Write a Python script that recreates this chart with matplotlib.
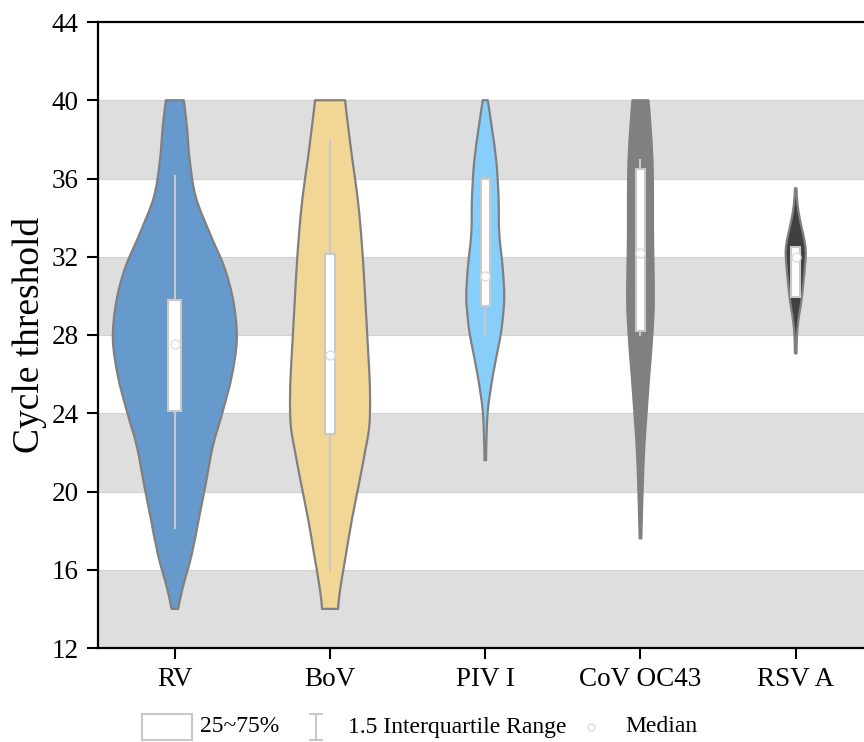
import matplotlib
matplotlib.use("Agg")
import matplotlib.pyplot as plt
from matplotlib.patches import Rectangle, PathPatch
from matplotlib.path import Path
import numpy as np

plt.rcParams['font.family'] = ['Liberation Serif', 'DejaVu Serif']

# ---------------- data ----------------
categories = ["RV", "BoV", "PIV I", "CoV OC43", "RSV A"]

# violin outline profiles: y values and relative half-widths (density)
rv_y = [14, 15.0, 16.8, 18.6, 20.4, 22.3, 24.1, 25.9, 27.75, 29.6, 31.4, 33.2, 35.05, 36.9, 38.7, 40]
rv_w = [3.3, 7.5, 17, 24, 31, 38, 48, 57, 62, 59, 50, 35, 21, 15, 12, 9]

bov_y = [14, 14.96, 16.8, 18.6, 20.4, 22.3, 23.2, 24.1, 25.0, 25.9, 27.75, 29.6, 31.4, 33.2, 35.05, 36.9, 38.7, 40]
bov_w = [8, 10, 16, 22, 29, 36, 39, 40, 40, 39.5, 37.5, 35.5, 33.5, 31, 27.5, 22.5, 18, 15]

piv_y = [21.6, 22.3, 24.1, 25.9, 27.75, 28.6, 29.9, 31.4, 33.2, 35.05, 36.9, 38.7, 40]
piv_w = [0.8, 1.0, 2.5, 7.5, 14.5, 17, 19, 17.5, 14, 13.3, 11, 6.3, 2.5]

cov_y = [17.6, 18.6, 20.4, 22.3, 24.1, 25.9, 27.75, 29.6, 31.4, 33.2, 35.05, 36.9, 38.7, 40]
cov_w = [0.8, 1.3, 2.3, 3.8, 6.2, 8.7, 11.5, 13.3, 13, 12.5, 12.5, 12, 10, 8]

rsv_y = [27.06, 27.9, 28.77, 29.6, 30.47, 31.67, 32.35, 33.03, 33.88, 34.73, 35.5]
rsv_w = [0.8, 1.2, 2.7, 5.3, 7.3, 9.5, 10, 8, 4.3, 1.7, 0.8]

profiles_y = [rv_y, bov_y, piv_y, cov_y, rsv_y]
profiles_w = [rv_w, bov_w, piv_w, cov_w, rsv_w]

# box statistics
q1 = [24.1, 22.96, 29.5, 28.2, 29.96]
q3 = [29.8, 32.16, 35.97, 36.48, 32.48]
medians = [27.55, 27.0, 31.0, 32.2, 31.97]
whisk_lo = [18.1, 15.9, 27.95, 27.95, 29.96]
whisk_hi = [36.2, 37.97, 36.15, 37.0, 32.48]

yticks = [12, 16, 20, 24, 28, 32, 36, 40, 44]

# ---------------- style ----------------
fills = ["#6699CC", "#F2D695", "#87CEFA", "#808080", "#404040"]
edge = "#808080"
box_edge = "#C8C8C8"
WIDTH_SCALE = 1 / 155.4
box_half = [0.042, 0.030, 0.028, 0.032, 0.029]


def smooth_side(pts):
    """Catmull-Rom through pts -> cubic Bezier vertices/codes (excluding first MOVETO)."""
    verts, codes = [], []
    n = len(pts)
    for k in range(n - 1):
        p0 = pts[k - 1] if k > 0 else pts[k]
        p1 = pts[k]
        p2 = pts[k + 1]
        p3 = pts[k + 2] if k + 2 < n else pts[k + 1]
        c1 = p1 + (p2 - p0) / 6.0
        c2 = p2 - (p3 - p1) / 6.0
        verts += [c1, c2, p2]
        codes += [Path.CURVE4] * 3
    return verts, codes


def violin_path(cx, y, w):
    right = np.column_stack([cx + w, y])
    left = np.column_stack([cx - w, y])[::-1]
    verts = [right[0]]
    codes = [Path.MOVETO]
    v, c = smooth_side(right)
    verts += v; codes += c
    verts.append(left[0]); codes.append(Path.LINETO)
    v, c = smooth_side(left)
    verts += v; codes += c
    verts.append(right[0]); codes.append(Path.CLOSEPOLY)
    return Path(np.array(verts), codes)


fig = plt.figure(figsize=(8.64, 7.42), dpi=100)
ax = fig.add_axes([98 / 864, 94 / 742, 1 - 98 / 864, 626 / 742])

# background bands
for b in yticks[:-1][::2]:
    ax.axhspan(b, b + 4, color="#DEDEDE", zorder=0, lw=0)
    ax.axhline(b, color="#D2D2D2", lw=0.8, zorder=0.5)
    ax.axhline(b + 4, color="#D2D2D2", lw=0.8, zorder=0.5)

for i, cat in enumerate(categories):
    y = np.array(profiles_y[i], dtype=float)
    w = np.array(profiles_w[i], dtype=float) * WIDTH_SCALE
    ax.add_patch(PathPatch(violin_path(i, y, w), facecolor=fills[i], edgecolor=edge,
                           lw=1.6, zorder=2, joinstyle="round"))
    # whisker
    ax.plot([i, i], [whisk_lo[i], whisk_hi[i]], color=box_edge, lw=1.5, zorder=3, solid_capstyle="butt")
    # box
    bh = box_half[i]
    ax.add_patch(Rectangle((i - bh, q1[i]), 2 * bh, q3[i] - q1[i], facecolor="white",
                           edgecolor=box_edge, lw=1.5, zorder=4))
    ax.plot(i, medians[i], "o", ms=6.5, mfc="white", mec="#DDDDDD", mew=1, zorder=5)

ax.set_xlim(-0.495, 4.44)
ax.set_ylim(12, 44)
ax.set_yticks(yticks)
ax.set_xticks(range(len(categories)))
ax.set_xticklabels(categories)
ax.tick_params(axis="both", direction="out", length=8, width=1.5, labelsize=19.5, pad=6)
for s in ["left", "bottom", "top"]:
    ax.spines[s].set_linewidth(1.6)
ax.spines["right"].set_visible(False)
ax.set_ylabel("Cycle threshold", fontsize=27, labelpad=3)

# legend drawn in figure pixel coordinates
lg = fig.add_axes([0, 0, 1, 1])
lg.set_xlim(0, 864)
lg.set_ylim(742, 0)
lg.axis("off")
lg.patch.set_alpha(0)
lg.add_patch(Rectangle((142, 714), 50, 26, facecolor="white", edgecolor="#C8C8C8", lw=1.5))
lg.text(200, 727, "25~75%", fontsize=17, va="center", ha="left")
lg.plot([316, 316], [714, 740], color="#C8C8C8", lw=1.5)
lg.plot([310, 322], [714, 714], color="#C8C8C8", lw=1.5)
lg.plot([310, 322], [740, 740], color="#C8C8C8", lw=1.5)
lg.text(348, 727, "1.5 Interquartile Range", fontsize=17, va="center", ha="left")
lg.plot(591, 727, "o", ms=5, mfc="white", mec="#DDDDDD", mew=1)
lg.text(625, 727, "Median", fontsize=17, va="center", ha="left")

fig.savefig("out.png", dpi=100)
